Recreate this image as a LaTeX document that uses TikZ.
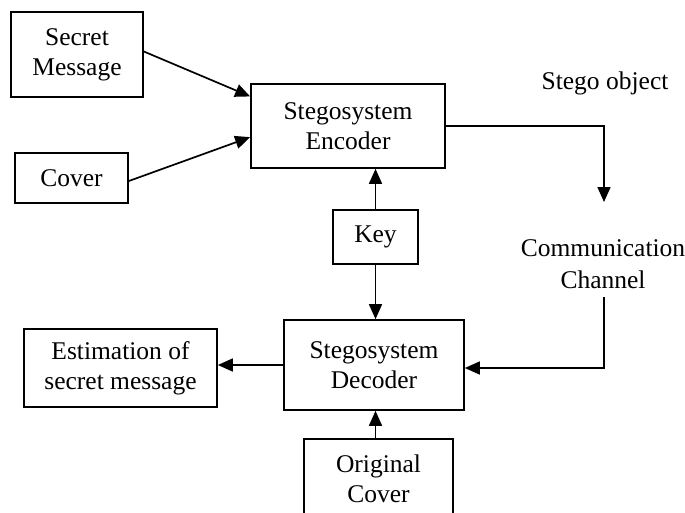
\documentclass[tikz,border=0pt]{standalone}
\usepackage{fontspec}
\setmainfont{Liberation Serif}
\usetikzlibrary{arrows.meta,calc}
\begin{document}
\begin{tikzpicture}[x=1pt,y=-1pt,
  box/.style={draw,line width=1.7pt,rectangle,align=center,inner sep=0pt,
    font=\fontsize{25.5}{30}\selectfont},
  lbl/.style={align=center,inner sep=0pt,font=\fontsize{25.5}{32}\selectfont},
  conn/.style={line width=1.7pt,-{Triangle[length=15pt,width=13pt]}}]
\useasboundingbox (0,0) rectangle (685,512);
\node[box,minimum width=132pt,minimum height=85pt] (sm) at (77,54.5) {Secret\\Message};
\node[box,minimum width=113pt,minimum height=50pt] (cov) at (71.5,178) {Cover};
\node[box,minimum width=194pt,minimum height=84pt] (enc) at (348,126) {Stegosystem\\Encoder};
\node[box,minimum width=85pt,minimum height=54pt] (key) at (375.5,237) {Key};
\node[box,minimum width=180pt,minimum height=90pt] (dec) at (374,365) {Stegosystem\\Decoder};
\node[box,minimum width=193pt,minimum height=78pt] (est) at (120.5,368) {Estimation of\\secret message};
\node[box,minimum width=149pt,minimum height=80pt] (oc) at (378.5,479) {Original\\Cover};
\node[lbl] (so) at (605,83) {Stego object};
\node[lbl] (cc) at (603,264) {Communication\\Channel};
\coordinate (c2) at (604,202);
\coordinate (c3) at (604,297);
\draw[conn] ([yshift=3pt]sm.east) -- ($(enc.north west)!0.155!(enc.south west)$);
\draw[conn] ([yshift=-3pt]cov.east) -- ($(enc.north west)!0.63!(enc.south west)$);
\draw[conn] (enc.east) -| (c2);
\draw[conn] (c3) |- ([yshift=-3pt]dec.east);
\draw[conn] (key.north) -- (key.north |- enc.south);
\draw[conn] (key.south) -- (key.south |- dec.north);
\draw[conn] (oc.north -| key.south) -- (key.south |- dec.south);
\draw[conn] (dec.west) -- (dec.west -| est.east);
\end{tikzpicture}
\end{document}
